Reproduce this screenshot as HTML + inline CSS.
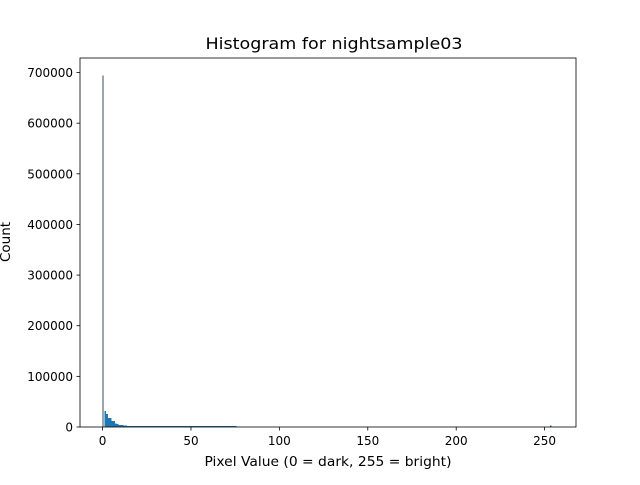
<!DOCTYPE html>
<html><head><meta charset="utf-8"><style>
body{margin:0;background:#fff;}
svg text{font-family:"DejaVu Sans","Liberation Sans",sans-serif;fill:#000;}
</style></head><body>
<svg id="chart" width="640" height="480" xmlns="http://www.w3.org/2000/svg">
<rect width="640" height="480" fill="#fff"/>
<g id="bars" shape-rendering="crispEdges"></g>
<g id="axes"></g>
<text x="334" y="49" font-size="16" text-anchor="middle" textLength="257" lengthAdjust="spacingAndGlyphs">Histogram for nightsample03</text>
<text x="328" y="466" font-size="13.5" text-anchor="middle" textLength="247" lengthAdjust="spacingAndGlyphs">Pixel Value (0 = dark, 255 = bright)</text>
<text transform="translate(10,242) rotate(-90)" font-size="13.5" text-anchor="middle">Count</text>
</svg>
<script>
const binValues = [694000,31500,26000,18000,17500,12000,12000,6500,6000,4200,4000,3800,2600,2500,2400,2400,2300,2300,2300,2300,2200,2200,2200,2200,2200,2200,2100,2100,2100,2100,2100,2100,2100,2100,2000,2000,2000,2000,2000,2000,2000,2000,2000,2000,2000,2000,2000,2000,2000,2000,2000,2000,2000,2000,2000,2000,2000,2000,2000,1900,1900,1900,1900,1900,1900,1900,1900,1900,1900,1900,1800,1800,1800,1800,1800,1700];
const spikeBins = [254];
const spikeValues = [2500];
const xTicks = [0,50,100,150,200,250];
const yTicks = [0,100000,200000,300000,400000,500000,600000,700000];
const L=80,R=576,T=58,B=427;
const xmin=-12.75,xmax=267.75,ymax=694000*1.05;
const xs=v=>L+(v-xmin)/(xmax-xmin)*(R-L);
const ys=v=>B-v/ymax*(B-T);
const NS="http://www.w3.org/2000/svg";
const bars=document.getElementById('bars');
function bar(i,v){
  const r=document.createElementNS(NS,'rect');
  
  
  const w=xs((i+1)*255/256)-xs(i*255/256);
  r.setAttribute('x',xs(i*255/256));
  r.setAttribute('width',i===0?1:w);
  r.setAttribute('y',ys(v));
  r.setAttribute('height',B-ys(v));
  r.setAttribute('fill',i===0?'#3a4a5a':'#1f77b4');
  bars.appendChild(r);
}
binValues.forEach((v,i)=>bar(i,v));
spikeBins.forEach((b,k)=>bar(b,spikeValues[k]));
const ax=document.getElementById('axes');
let h='<rect x="80" y="58" width="496" height="369" fill="none" stroke="#000" stroke-width="0.8"/>';
xTicks.forEach(t=>{const x=xs(t);h+=`<line x1="${x}" x2="${x}" y1="427" y2="430.5" stroke="#000" stroke-width="0.8"/><text x="${x}" y="445" font-size="12" text-anchor="middle">${t}</text>`;});
yTicks.forEach(t=>{const y=ys(t);h+=`<line x1="76.5" x2="80" y1="${y}" y2="${y}" stroke="#000" stroke-width="0.8"/><text x="73" y="${y+4.5}" font-size="12" text-anchor="end">${t}</text>`;});
ax.innerHTML=h;
</script>
</body></html>
